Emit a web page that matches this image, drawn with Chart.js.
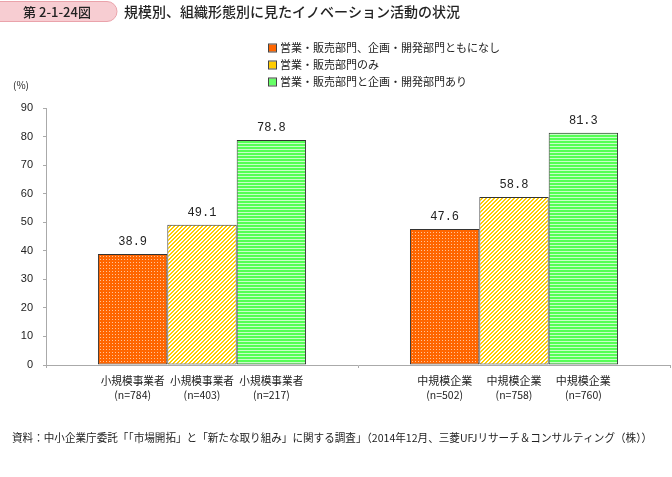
<!DOCTYPE html>
<html>
<head>
<meta charset="utf-8">
<script src="https://cdn.jsdelivr.net/npm/chart.js@4/dist/chart.umd.min.js"></script>
<style>
  html, body { margin: 0; padding: 0; background: #fff; }
  #wrap { width: 672px; height: 477px; position: relative; }
</style>
</head>
<body>
<div id="wrap"><canvas id="innovChart" width="672" height="477"></canvas></div>
<script>
// data
const categories = ['小規模事業者', '中規模企業'];
const seriesNames = [
    '営業・販売部門、企画・開発部門ともになし',
    '営業・販売部門のみ',
    '営業・販売部門と企画・開発部門あり'
];
const noneValues = [38.9, 47.6];
const salesOnlyValues = [49.1, 58.8];
const bothValues = [78.8, 81.3];
const noneCounts = [784, 502];
const salesOnlyCounts = [403, 758];
const bothCounts = [217, 760];
const yTicks = [0, 10, 20, 30, 40, 50, 60, 70, 80, 90];

const JP = '"Noto Sans CJK JP", sans-serif';

function makePattern(w, h, draw) {
    const c = document.createElement('canvas');
    c.width = w; c.height = h;
    draw(c.getContext('2d'));
    return document.createElement('canvas').getContext('2d').createPattern(c, 'repeat');
}

// orange with white dots
const dotPattern = makePattern(3, 3, g => {
    g.fillStyle = '#ff6600'; g.fillRect(0, 0, 3, 3);
    g.fillStyle = '#ffc49a'; g.fillRect(1, 1, 1, 1);
});
// yellow diagonal stripes
const stripePattern = makePattern(4, 4, g => {
    g.fillStyle = '#ffffff'; g.fillRect(0, 0, 4, 4);
    g.fillStyle = '#ffcc00';
    for (let i = 0; i < 4; i++) {
        g.fillRect((3 - i + 4) % 4, i, 2, 1);
        g.fillRect((3 - i + 5) % 4, i, 1, 1);
    }
});
// green horizontal lines
const linePattern = makePattern(2, 3, g => {
    g.fillStyle = '#55ff55'; g.fillRect(0, 0, 2, 3);
    g.fillStyle = '#c8ffc8'; g.fillRect(0, 2, 2, 1);
});

const fills = [dotPattern, stripePattern, linePattern];
const legendColors = ['#ff6600', '#ffcc00', '#66ff66'];
const counts = [noneCounts, salesOnlyCounts, bothCounts];

const decor = {
    id: 'decor',
    afterDraw(chart) {
        const ctx = chart.ctx;
        ctx.save();

        // figure number box
        ctx.fillStyle = '#f7cdd2';
        ctx.strokeStyle = '#eaa3ab';
        ctx.lineWidth = 1;
        ctx.beginPath();
        ctx.roundRect(-12, 1.5, 129, 20, 10);
        ctx.fill(); ctx.stroke();
        ctx.fillStyle = '#222';
        ctx.textBaseline = 'middle';
        ctx.textAlign = 'center';
        ctx.font = '500 13px ' + JP;
        ctx.fillText('第 2-1-24図', 57, 12);
        ctx.textAlign = 'left';
        ctx.font = '500 14px ' + JP;
        ctx.fillText('規模別、組織形態別に見たイノベーション活動の状況', 124, 12);

        // legend
        ctx.font = '11px ' + JP;
        seriesNames.forEach((name, i) => {
            const y = 48 + i * 17;
            ctx.fillStyle = legendColors[i];
            ctx.fillRect(269, y - 3.5, 7, 7);
            ctx.strokeStyle = '#444';
            ctx.strokeRect(268.5, y - 4, 8, 8);
            ctx.fillStyle = '#222';
            ctx.fillText(name, 280, y);
        });

        // unit
        ctx.font = '10px ' + JP;
        ctx.fillText('(%)', 13, 85);

        // value labels and bar labels
        chart.data.datasets.forEach((ds, i) => {
            chart.getDatasetMeta(i).data.forEach((bar, j) => {
                ctx.fillStyle = '#222';
                ctx.textAlign = 'center';
                ctx.font = '12px "Liberation Mono", monospace';
                ctx.fillText(ds.data[j].toFixed(1), bar.x, bar.y - 12);
                ctx.font = '11px ' + JP;
                ctx.fillText(categories[j], bar.x, 381, 64);
                ctx.font = '10.5px ' + JP;
                ctx.fillText('(n=' + counts[i][j] + ')', bar.x, 395);
            });
        });

        // source
        ctx.textAlign = 'left';
        ctx.font = '11px ' + JP;
        ctx.fillText('資料：中小企業庁委託「「市場開拓」と「新たな取り組み」に関する調査」（2014年12月、三菱UFJリサーチ＆コンサルティング（株））', 12, 438, 640);
        ctx.restore();
    }
};

new Chart(document.getElementById('innovChart'), {
    type: 'bar',
    data: {
        labels: categories,
        datasets: [
            { label: seriesNames[0], data: noneValues },
            { label: seriesNames[1], data: salesOnlyValues },
            { label: seriesNames[2], data: bothValues }
        ].map((ds, i) => Object.assign(ds, {
            backgroundColor: fills[i],
            borderColor: '#333',
            borderWidth: 1,
            borderSkipped: false,
            barPercentage: 1,
            categoryPercentage: 0.667
        }))
    },
    options: {
        responsive: false,
        animation: false,
        layout: { padding: { top: 108, bottom: 112, left: 0, right: 2 } },
        plugins: { legend: { display: false }, tooltip: { enabled: false } },
        scales: {
            x: {
                grid: { display: true, drawOnChartArea: false, tickLength: 3, color: '#aaa', offset: true },
                border: { color: '#aaa' },
                ticks: { display: false },
                afterFit: s => { s.height = 0; }
            },
            y: {
                min: 0, max: 90,
                afterBuildTicks: s => { s.ticks = yTicks.map(v => ({ value: v })); },
                grid: { drawOnChartArea: false, tickLength: 3, color: '#aaa' },
                border: { color: '#aaa' },
                ticks: { color: '#222', padding: 10, font: { size: 11, family: '"Liberation Sans", sans-serif' } },
                afterFit: s => { s.width = 46; }
            }
        }
    },
    plugins: [decor]
});
</script>
</body>
</html>
